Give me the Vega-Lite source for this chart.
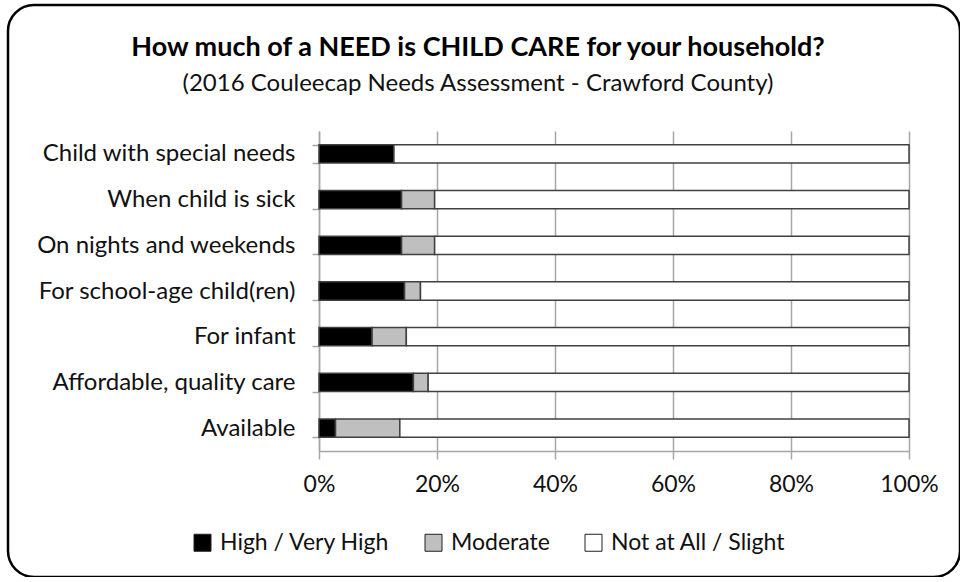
{
  "$schema": "https://vega.github.io/schema/vega-lite/v6.json",
  "width": 952,
  "height": 572,
  "autosize": {"type": "none"},
  "padding": {"left": 8, "top": 5, "right": 0, "bottom": 0},
  "background": "white",
  "config": {
    "font": "Lato",
    "view": {"stroke": "#000000", "strokeWidth": 2.5, "cornerRadius": 26, "fill": "white"}
  },
  "title": {
    "text": "How much of a NEED is CHILD CARE for your household?",
    "subtitle": "(2016 Couleecap Needs Assessment - Crawford County)",
    "anchor": "middle",
    "frame": "group",
    "font": "Lato",
    "fontSize": 27,
    "fontWeight": "bold",
    "color": "#000000",
    "subtitleFont": "Lato",
    "subtitleFontSize": 24,
    "subtitleColor": "#111111",
    "subtitlePadding": 10,
    "offset": -104,
    "dx": -6
  },
  "data": {
    "values": [
      {"item": "Child with special needs", "level": "High / Very High", "k": 1, "pct": 12.7},
      {"item": "Child with special needs", "level": "Not at All / Slight", "k": 3, "pct": 87.3},
      {"item": "When child is sick", "level": "High / Very High", "k": 1, "pct": 14.0},
      {"item": "When child is sick", "level": "Moderate", "k": 2, "pct": 5.6},
      {"item": "When child is sick", "level": "Not at All / Slight", "k": 3, "pct": 80.4},
      {"item": "On nights and weekends", "level": "High / Very High", "k": 1, "pct": 14.0},
      {"item": "On nights and weekends", "level": "Moderate", "k": 2, "pct": 5.6},
      {"item": "On nights and weekends", "level": "Not at All / Slight", "k": 3, "pct": 80.4},
      {"item": "For school-age child(ren)", "level": "High / Very High", "k": 1, "pct": 14.5},
      {"item": "For school-age child(ren)", "level": "Moderate", "k": 2, "pct": 2.7},
      {"item": "For school-age child(ren)", "level": "Not at All / Slight", "k": 3, "pct": 82.8},
      {"item": "For infant", "level": "High / Very High", "k": 1, "pct": 9.0},
      {"item": "For infant", "level": "Moderate", "k": 2, "pct": 5.8},
      {"item": "For infant", "level": "Not at All / Slight", "k": 3, "pct": 85.2},
      {"item": "Affordable, quality care", "level": "High / Very High", "k": 1, "pct": 16.0},
      {"item": "Affordable, quality care", "level": "Moderate", "k": 2, "pct": 2.5},
      {"item": "Affordable, quality care", "level": "Not at All / Slight", "k": 3, "pct": 81.5},
      {"item": "Available", "level": "High / Very High", "k": 1, "pct": 2.8},
      {"item": "Available", "level": "Moderate", "k": 2, "pct": 10.9},
      {"item": "Available", "level": "Not at All / Slight", "k": 3, "pct": 86.3}
    ]
  },
  "mark": {"type": "bar", "stroke": "#404040", "strokeWidth": 1.5},
  "encoding": {
    "y": {
      "field": "item",
      "type": "nominal",
      "sort": ["Child with special needs", "When child is sick", "On nights and weekends", "For school-age child(ren)", "For infant", "Affordable, quality care", "Available"],
      "scale": {"range": [126, 446], "paddingInner": 0.6, "paddingOuter": 0.3},
      "axis": {
        "title": null,
        "offset": -311,
        "grid": false,
        "domainColor": "#a6a6a6",
        "domainWidth": 1.5,
        "tickColor": "#a6a6a6",
        "tickWidth": 1.5,
        "tickSize": 7,
        "tickBand": "extent",
        "labelFont": "Lato",
        "labelFontSize": 24,
        "labelColor": "#111111",
        "labelPadding": 17,
        "labelLimit": 400
      }
    },
    "x": {
      "field": "pct",
      "type": "quantitative",
      "stack": "zero",
      "scale": {"domain": [0, 100], "range": [311, 901], "nice": false},
      "axis": {
        "title": null,
        "offset": -126,
        "values": [0, 20, 40, 60, 80, 100],
        "labelExpr": "datum.value + '%'",
        "grid": true,
        "gridColor": "#a6a6a6",
        "gridWidth": 1.5,
        "domainColor": "#a6a6a6",
        "domainWidth": 1.5,
        "tickColor": "#a6a6a6",
        "tickWidth": 1.5,
        "tickSize": 8,
        "labelFont": "Lato",
        "labelFontSize": 23,
        "labelColor": "#111111",
        "labelPadding": 14,
        "labelFlush": false
      }
    },
    "color": {
      "field": "level",
      "type": "nominal",
      "scale": {"domain": ["High / Very High", "Moderate", "Not at All / Slight"], "range": ["#000000", "#bfbfbf", "#ffffff"]},
      "legend": {
        "title": null,
        "orient": "none",
        "legendX": 183,
        "legendY": 526,
        "direction": "horizontal",
        "symbolType": "square",
        "symbolSize": 289,
        "symbolStrokeColor": "#222222",
        "symbolStrokeWidth": 1,
        "symbolOpacity": 1,
        "labelFont": "Lato",
        "labelFontSize": 23,
        "labelColor": "#111111",
        "labelOffset": 6,
        "columnPadding": 32,
        "labelLimit": 400
      }
    },
    "order": {"field": "k", "type": "quantitative"}
  }
}
